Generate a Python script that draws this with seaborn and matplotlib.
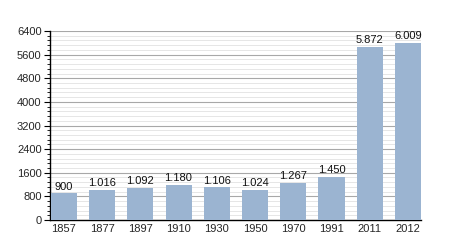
import matplotlib
matplotlib.use("Agg")
import matplotlib.pyplot as plt
import seaborn as sns
import pandas as pd
from matplotlib.ticker import MultipleLocator

years = ["1857", "1877", "1897", "1910", "1930", "1950", "1970", "1991", "2011", "2012"]
population = [900, 1016, 1092, 1180, 1106, 1024, 1267, 1450, 5872, 6009]
labels = ["900", "1.016", "1.092", "1.180", "1.106", "1.024", "1.267", "1.450", "5.872", "6.009"]

df = pd.DataFrame({"year": years, "pop": population})

sns.set_theme(style="white")
plt.rcParams['font.family'] = ['Liberation Sans', 'DejaVu Sans']

fig = plt.figure(figsize=(4.5, 2.5), dpi=100)
ax = fig.add_axes([50/450, 1 - 220/250, 371/450, 189/250])

sns.barplot(data=df, x="year", y="pop", color="#9bb4d1", width=0.68, ax=ax, zorder=3,
            saturation=1, linewidth=0, edgecolor="none")

for i, (v, t) in enumerate(zip(population, labels)):
    ax.text(i, v + 60, t, ha="center", va="bottom", fontsize=8, color="#111111", zorder=4)

ax.set_ylim(0, 6400)
ax.set_xlim(-0.36, 9.34)
ax.yaxis.set_major_locator(MultipleLocator(800))
ax.yaxis.set_minor_locator(MultipleLocator(160))
ax.grid(which="major", axis="y", color="#a8a8a8", linewidth=0.8, zorder=0)
ax.grid(which="minor", axis="y", color="#e2e2e2", linewidth=0.6, zorder=0)
ax.set_axisbelow(True)
ax.tick_params(axis="y", which="major", length=4, width=0.8, color="black", labelsize=8, left=True, pad=2)
ax.tick_params(axis="y", which="minor", length=2, width=0.6, color="black", left=True)
ax.tick_params(axis="x", length=0, labelsize=8, pad=3)
ax.set_xlabel("")
ax.set_ylabel("")
for s in ["top", "right"]:
    ax.spines[s].set_visible(False)
for s in ["left", "bottom"]:
    ax.spines[s].set_color("black")
    ax.spines[s].set_linewidth(1.0)

fig.savefig("out.png", dpi=100)
